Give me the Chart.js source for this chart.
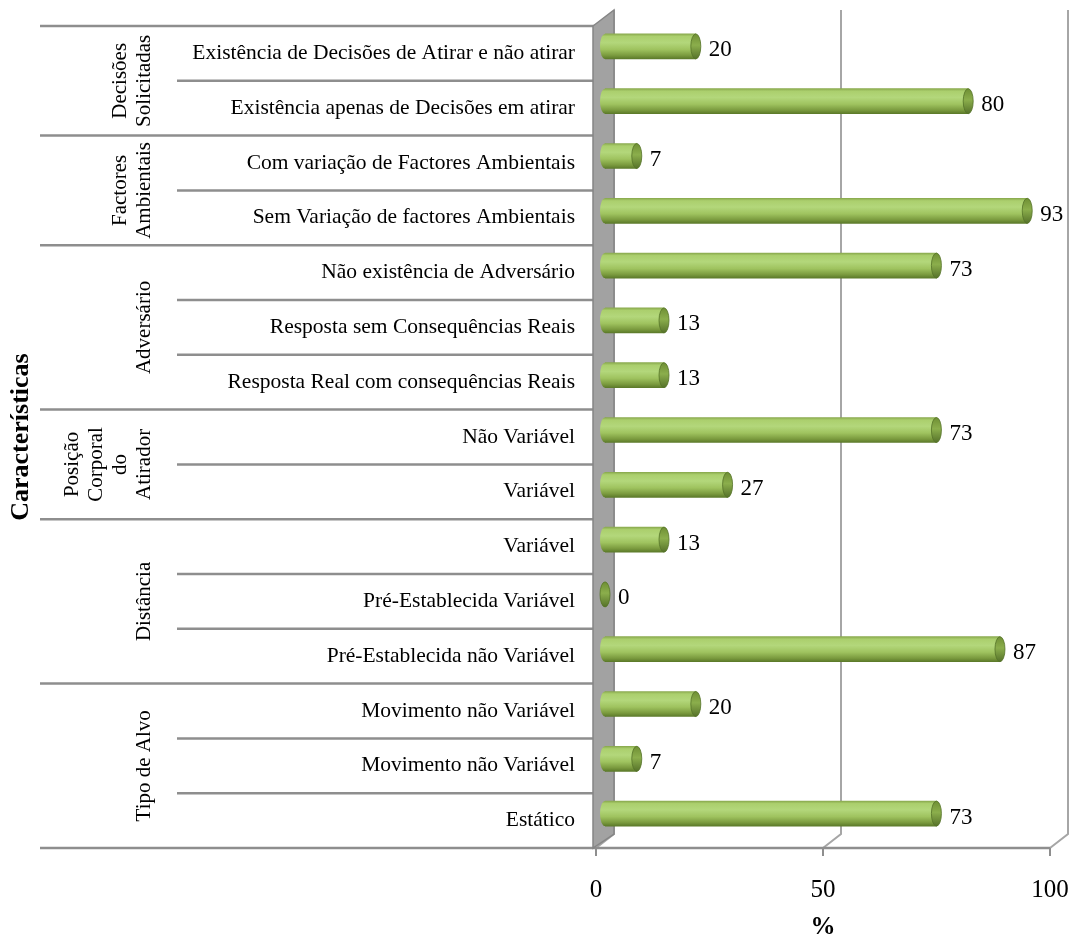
<!DOCTYPE html>
<html>
<head>
<meta charset="utf-8">
<script src="https://cdn.jsdelivr.net/npm/chart.js@4.4.0/dist/chart.umd.min.js"></script>
<style>
  body { margin: 0; background: #fff; }
</style>
</head>
<body>
<canvas id="chart" width="1075" height="940"></canvas>
<script>
var categories = [
    "Existência de Decisões de Atirar e não atirar",
    "Existência apenas de Decisões em atirar",
    "Com variação de Factores Ambientais",
    "Sem Variação de factores Ambientais",
    "Não existência de Adversário",
    "Resposta sem Consequências Reais",
    "Resposta Real com consequências Reais",
    "Não Variável",
    "Variável",
    "Variável",
    "Pré-Establecida Variável",
    "Pré-Establecida não Variável",
    "Movimento não Variável",
    "Movimento não Variável",
    "Estático"
];
var values = [20, 80, 7, 93, 73, 13, 13, 73, 27, 13, 0, 87, 20, 7, 73];
var groupNames = [
    ["Decisões", "Solicitadas"],
    ["Factores", "Ambientais"],
    ["Adversário"],
    ["Posição", "Corporal", "do", "Atirador"],
    ["Distância"],
    ["Tipo de Alvo"]
];
var groupSizes = [2, 2, 3, 2, 3, 3];
var xTicks = [0, 50, 100];

var SERIF = "'Liberation Serif', 'Times New Roman', serif";
var DX = 18, DY = -14;        // depth of the 3D box
var BAR_DX = 9, BAR_DY = -7;  // bars sit half way back

function cylGradient(ctx, yc, r) {
    var g = ctx.createLinearGradient(0, yc - r, 0, yc + r);
    g.addColorStop(0, '#8aaa4e');
    g.addColorStop(0.1, '#abcf6d');
    g.addColorStop(0.35, '#b3d77b');
    g.addColorStop(0.62, '#9fc35f');
    g.addColorStop(0.86, '#7a9a3e');
    g.addColorStop(1, '#5c7a2a');
    return g;
}

function rowEdges(chart) {
    var a = chart.chartArea, ys = chart.scales.y, edges = [a.top];
    for (var i = 1; i < categories.length; i++) {
        edges.push((ys.getPixelForValue(i - 1) + ys.getPixelForValue(i)) / 2);
    }
    edges.push(a.bottom);
    return edges;
}

function hline(ctx, x0, x1, y) {
    ctx.beginPath();
    ctx.moveTo(x0, y);
    ctx.lineTo(x1, y);
    ctx.stroke();
}

var frame3d = {
    id: 'frame3d',
    beforeDatasetsDraw: function (chart) {
        var ctx = chart.ctx, a = chart.chartArea, xs = chart.scales.x;
        var edges = rowEdges(chart);
        ctx.save();

        // back grid lines and floor diagonals
        ctx.strokeStyle = '#a6a6a6';
        ctx.lineWidth = 2;
        xTicks.forEach(function (v) {
            var px = xs.getPixelForValue(v);
            ctx.beginPath();
            ctx.moveTo(px, a.bottom);
            ctx.lineTo(px + DX, a.bottom + DY);
            ctx.lineTo(px + DX, a.top + DY - 2);
            ctx.stroke();
        });

        // category separators
        ctx.strokeStyle = '#8e8e8e';
        ctx.lineWidth = 2.5;
        var start = 0;
        hline(ctx, 40, a.left, edges[0]);
        groupSizes.forEach(function (n) {
            for (var k = 1; k < n; k++) hline(ctx, 177, a.left, edges[start + k]);
            start += n;
            hline(ctx, 40, a.left, edges[start]);
        });
        hline(ctx, a.left, a.right, a.bottom);

        // tick marks on the front edge
        ctx.lineWidth = 2;
        xTicks.forEach(function (v) {
            var px = xs.getPixelForValue(v);
            ctx.beginPath();
            ctx.moveTo(px, a.bottom);
            ctx.lineTo(px, a.bottom + 8);
            ctx.stroke();
        });

        // left wall
        ctx.beginPath();
        ctx.moveTo(a.left - 3, a.top);
        ctx.lineTo(a.left + DX, a.top + DY - 2);
        ctx.lineTo(a.left + DX, a.bottom + DY);
        ctx.lineTo(a.left - 3, a.bottom);
        ctx.closePath();
        ctx.fillStyle = '#a2a2a2';
        ctx.fill();
        ctx.strokeStyle = '#858585';
        ctx.lineWidth = 1.5;
        ctx.stroke();

        // group labels
        ctx.fillStyle = '#000';
        ctx.font = '21px ' + SERIF;
        ctx.textAlign = 'center';
        ctx.textBaseline = 'middle';
        start = 0;
        groupSizes.forEach(function (n, g) {
            var cy = (edges[start] + edges[start + n]) / 2;
            var lines = groupNames[g];
            ctx.save();
            ctx.translate(144, cy);
            ctx.rotate(-Math.PI / 2);
            lines.forEach(function (t, i) {
                ctx.fillText(t, 0, (i - (lines.length - 1)) * 24);
            });
            ctx.restore();
            start += n;
        });

        ctx.restore();
        ctx.save();
        ctx.translate(BAR_DX, BAR_DY);
    },
    afterDatasetsDraw: function (chart) {
        var ctx = chart.ctx;
        var meta = chart.getDatasetMeta(0);
        meta.data.forEach(function (bar, i) {
            var r = bar.height / 2;
            // rounded left end
            ctx.beginPath();
            ctx.ellipse(bar.base, bar.y, 5, r, 0, 0, Math.PI * 2);
            ctx.fillStyle = cylGradient(ctx, bar.y, r);
            ctx.fill();
            // end cap
            var g = ctx.createLinearGradient(0, bar.y - r, 0, bar.y + r);
            g.addColorStop(0, '#6f8f34');
            g.addColorStop(0.45, '#8bae4c');
            g.addColorStop(1, '#56722a');
            ctx.beginPath();
            ctx.ellipse(bar.x, bar.y, 5, r, 0, 0, Math.PI * 2);
            ctx.fillStyle = g;
            ctx.fill();
            ctx.strokeStyle = 'rgba(85,115,40,0.8)';
            ctx.lineWidth = 1;
            ctx.stroke();
            // value label
            ctx.fillStyle = '#000';
            ctx.font = '23px ' + SERIF;
            ctx.textAlign = 'left';
            ctx.textBaseline = 'middle';
            ctx.fillText(String(values[i]), bar.x + 13, bar.y + 4);
        });
        ctx.restore();
    }
};

new Chart(document.getElementById('chart'), {
    type: 'bar',
    data: {
        labels: categories,
        datasets: [{
            data: values,
            barThickness: 25,
            borderWidth: 0,
            backgroundColor: function (c) {
                var ys = c.chart.scales.y;
                if (!ys || c.type !== 'data') return '#9bbb59';
                var yc = ys.getPixelForValue(c.dataIndex);
                if (!isFinite(yc)) return '#9bbb59';
                return cylGradient(c.chart.ctx, yc, 12.5);
            }
        }]
    },
    options: {
        indexAxis: 'y',
        responsive: false,
        animation: false,
        devicePixelRatio: 1,
        layout: { padding: { top: 26, right: 25, left: 0, bottom: 0 } },
        plugins: { legend: { display: false }, tooltip: { enabled: false } },
        scales: {
            x: {
                min: 0,
                max: 100,
                grid: { display: false, drawTicks: false },
                border: { display: false },
                ticks: { stepSize: 50, color: '#000', padding: 27, font: { family: SERIF, size: 25 } },
                title: {
                    display: true, text: '%', color: '#000', padding: 0,
                    font: { family: SERIF, size: 25, weight: 'bold', lineHeight: 1 }
                },
                afterFit: function (s) { s.height = 92; s.paddingLeft = 0; s.paddingRight = 0; }
            },
            y: {
                grid: { display: false, drawTicks: false },
                border: { display: false },
                ticks: { color: '#000', padding: 21, autoSkip: false, font: { family: SERIF, size: 21.5 } },
                title: {
                    display: true, text: 'Características', color: '#000', padding: { top: 6, bottom: 0 },
                    font: { family: SERIF, size: 26, weight: 'bold' }
                },
                afterFit: function (s) { s.width = 596; s.paddingTop = 0; s.paddingBottom = 0; }
            }
        }
    },
    plugins: [frame3d]
});
</script>
</body>
</html>
